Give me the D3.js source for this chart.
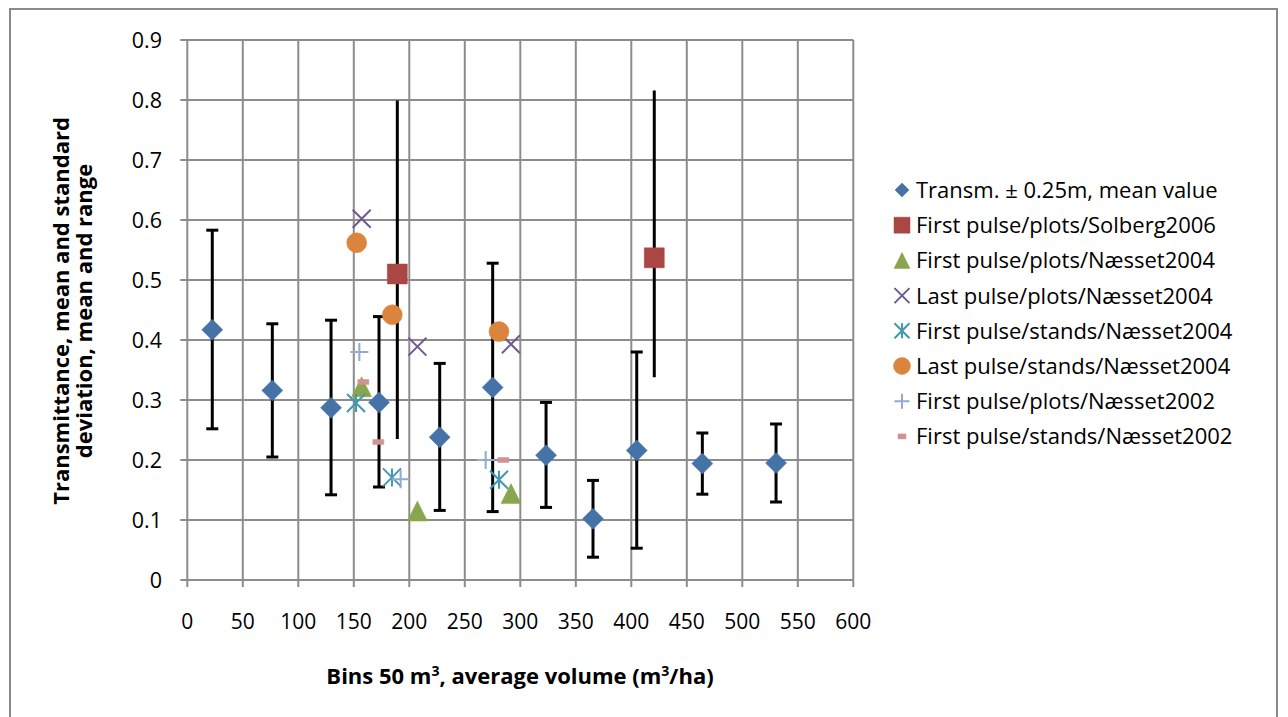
<!DOCTYPE html>
<html lang="en">
<head>
<meta charset="utf-8">
<title>Transmittance vs volume</title>
<script src="https://cdnjs.cloudflare.com/ajax/libs/d3/7.8.5/d3.min.js"></script>
<style>
	body { margin: 0; background: #fff; }
	svg text { font-family: "Open Sans", Lato, sans-serif; fill: #000; }
</style>
</head>
<body>
<svg id="chart" width="1288" height="717"></svg>
<script>
// transmittance bins: mean, upper and lower error bar ends
var binX    = [22.5, 76.6, 129.5, 172.7, 227.4, 275.1, 323.2, 365.5, 404.9, 464.0, 530.4];
var binMean = [0.417, 0.316, 0.287, 0.296, 0.238, 0.321, 0.208, 0.102, 0.216, 0.194, 0.195];
var binHigh = [0.583, 0.427, 0.433, 0.439, 0.361, 0.528, 0.296, 0.166, 0.380, 0.245, 0.260];
var binLow  = [0.252, 0.205, 0.142, 0.155, 0.116, 0.114, 0.121, 0.038, 0.053, 0.143, 0.130];

// Solberg 2006, mean and range
var solX    = [189.2, 420.7];
var solMean = [0.510, 0.537];
var solHigh = [0.799, 0.816];
var solLow  = [0.235, 0.338];

var fpPlots04X = [157.0, 207.3, 291.6],  fpPlots04Y = [0.322, 0.115, 0.144];
var lpPlots04X = [157.1, 207.3, 291.6],  lpPlots04Y = [0.602, 0.389, 0.393];
var fpStands04X = [152.0, 184.4, 280.8], fpStands04Y = [0.295, 0.171, 0.167];
var lpStands04X = [152.6, 184.7, 280.8], lpStands04Y = [0.562, 0.442, 0.414];
var fpPlots02X = [155.0, 192.2, 268.8],  fpPlots02Y = [0.380, 0.168, 0.200];
var fpStands02X = [158.6, 172.1, 284.7], fpStands02Y = [0.330, 0.230, 0.200];

var xTicks = d3.range(0, 601, 50);
var yTicks = d3.range(0, 10).map(function(i) { return i / 10; });

var legendNames = [
	"Transm. \u00b1 0.25m, mean value",
	"First pulse/plots/Solberg2006",
	"First pulse/plots/N\u00e6sset2004",
	"Last pulse/plots/N\u00e6sset2004",
	"First pulse/stands/N\u00e6sset2004",
	"Last pulse/stands/N\u00e6sset2004",
	"First pulse/plots/N\u00e6sset2002",
	"First pulse/stands/N\u00e6sset2002"
];

var svg = d3.select("#chart");
var x = d3.scaleLinear().domain([0, 600]).range([187.3, 853.3]);
var y = d3.scaleLinear().domain([0, 0.9]).range([580, 40]);

// outer frame
svg.append("rect").attr("x", 10).attr("y", 9).attr("width", 1267).attr("height", 730)
	.attr("fill", "none").attr("stroke", "#8a8a8a").attr("stroke-width", 2);

// grid
var grid = svg.append("g").attr("stroke", "#8c8c8c").attr("stroke-width", 2);
grid.selectAll(".h").data(yTicks).enter().append("line")
	.attr("x1", x(0) - 7).attr("x2", x(600))
	.attr("y1", function(d) { return y(d); }).attr("y2", function(d) { return y(d); });
grid.selectAll(".v").data(xTicks).enter().append("line")
	.attr("x1", function(d) { return x(d); }).attr("x2", function(d) { return x(d); })
	.attr("y1", y(0.9)).attr("y2", y(0) + 7);

// tick labels
svg.selectAll(".yl").data(yTicks).enter().append("text")
	.attr("x", 162).attr("y", function(d) { return y(d) + 7.5; })
	.attr("text-anchor", "end").attr("font-size", 21.5)
	.text(function(d) { return d === 0 ? "0" : d3.format(".1f")(d); });
svg.selectAll(".xl").data(xTicks).enter().append("text")
	.attr("x", function(d) { return x(d); }).attr("y", 629)
	.attr("text-anchor", "middle").attr("font-size", 21)
	.text(function(d) { return d; });

// axis titles
var yt = svg.append("text").attr("transform", "translate(73,311) rotate(-90)")
	.attr("text-anchor", "middle").attr("font-size", 22).attr("font-weight", "bold");
yt.append("tspan").attr("x", 0).attr("dy", -4).text("Transmittance, mean and standard");
yt.append("tspan").attr("x", 0).attr("dy", 23).text("deviation, mean and range");

var xt = svg.append("text").attr("x", 520).attr("y", 684)
	.attr("text-anchor", "middle").attr("font-size", 22).attr("font-weight", "bold");
xt.append("tspan").text("Bins 50 m");
xt.append("tspan").attr("font-size", 14).attr("dy", -8).text("3");
xt.append("tspan").attr("dy", 8).text(", average volume (m");
xt.append("tspan").attr("font-size", 14).attr("dy", -8).text("3");
xt.append("tspan").attr("dy", 8).text("/ha)");

// marker shapes, s = overall size
var shapes = {
	diamond: function(s) { var h = s / 2; return "M0," + (-h) + "L" + h + ",0L0," + h + "L" + (-h) + ",0Z"; },
	square: function(s) { var h = s / 2; return "M" + (-h) + "," + (-h) + "h" + s + "v" + s + "h" + (-s) + "Z"; },
	triangle: function(s) { var h = s / 2; return "M0," + (-h) + "L" + h + "," + h + "L" + (-h) + "," + h + "Z"; },
	cross: function(s) { var h = s / 2; return "M" + (-h) + "," + (-h) + "L" + h + "," + h + "M" + h + "," + (-h) + "L" + (-h) + "," + h; },
	star: function(s) { var h = s / 2; return "M" + (-h) + "," + (-h) + "L" + h + "," + h + "M" + h + "," + (-h) + "L" + (-h) + "," + h + "M0," + (-h) + "V" + h; },
	circle: function(s) { var r = s / 2; return "M" + r + ",0A" + r + "," + r + " 0 1,1 " + (-r) + ",0A" + r + "," + r + " 0 1,1 " + r + ",0Z"; },
	plus: function(s) { var h = s / 2; return "M" + (-h) + ",0H" + h + "M0," + (-h) + "V" + h; },
	dash: function(s) { return "M" + (-s / 2) + ",-2.5h" + s + "v5h" + (-s) + "Z"; }
};

var series = [
	{ xs: binX, ys: binMean, shape: "diamond", size: 21, color: "#4572a7", fill: true },
	{ xs: solX, ys: solMean, shape: "square", size: 20, color: "#aa4643", fill: true },
	{ xs: fpPlots04X, ys: fpPlots04Y, shape: "triangle", size: 20, color: "#89a54e", fill: true },
	{ xs: lpPlots04X, ys: lpPlots04Y, shape: "cross", size: 18, color: "#71588f", fill: false },
	{ xs: fpStands04X, ys: fpStands04Y, shape: "star", size: 18, color: "#4198af", fill: false },
	{ xs: lpStands04X, ys: lpStands04Y, shape: "circle", size: 20, color: "#db843d", fill: true },
	{ xs: fpPlots02X, ys: fpPlots02Y, shape: "plus", size: 18, color: "#93a9cf", fill: false },
	{ xs: fpStands02X, ys: fpStands02Y, shape: "dash", size: 11, color: "#d19392", fill: true }
];
var legendSize = [14, 16, 16, 15, 15, 17, 15, 8];

// error bars: std dev with caps for bins, range without caps for Solberg
var eb = svg.append("g").attr("stroke", "#000").attr("stroke-width", 3);
binX.forEach(function(v, i) {
	eb.append("line").attr("x1", x(v)).attr("x2", x(v)).attr("y1", y(binLow[i])).attr("y2", y(binHigh[i]));
	[binLow[i], binHigh[i]].forEach(function(e) {
		eb.append("line").attr("x1", x(v) - 6).attr("x2", x(v) + 6).attr("y1", y(e)).attr("y2", y(e));
	});
});
solX.forEach(function(v, i) {
	eb.append("line").attr("x1", x(v)).attr("x2", x(v)).attr("y1", y(solLow[i])).attr("y2", y(solHigh[i]));
});

function style(sel, s) {
	sel.attr("fill", s.fill ? s.color : "none")
		.attr("stroke", s.color).attr("stroke-width", s.fill ? 0.5 : 2);
}

series.forEach(function(s) {
	var g = svg.append("g");
	g.selectAll("path").data(s.xs).enter().append("path")
		.attr("transform", function(d, i) { return "translate(" + x(d) + "," + y(s.ys[i]) + ")"; })
		.attr("d", shapes[s.shape](s.size))
		.call(style, s);
});

// legend
var lg = svg.append("g").attr("transform", "translate(902,190)");
legendNames.forEach(function(name, i) {
	var row = lg.append("g").attr("transform", "translate(0," + (i * 35.2) + ")");
	row.append("path").attr("d", shapes[series[i].shape](legendSize[i])).call(style, series[i]);
	row.append("text").attr("x", 14).attr("y", 8).attr("font-size", 22).text(name);
});
</script>
</body>
</html>
